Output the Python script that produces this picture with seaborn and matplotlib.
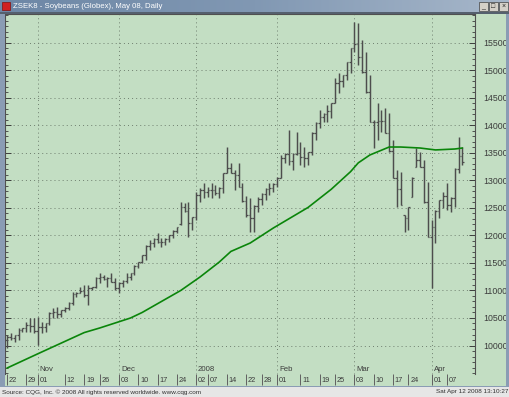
import numpy as np
import pandas as pd
import matplotlib
matplotlib.use("Agg")
import matplotlib.pyplot as plt
import matplotlib.transforms as mtransforms
from matplotlib.patches import Rectangle
from matplotlib.ticker import MultipleLocator, FixedLocator, FuncFormatter
from matplotlib.colors import LinearSegmentedColormap
import seaborn as sns

# ---------------- data ----------------
holidays = ['2007-11-22', '2007-12-25', '2008-01-01', '2008-01-21', '2008-02-18', '2008-03-21']
dates = pd.bdate_range('2007-10-22', '2008-04-11')
dates = dates[~dates.isin(pd.to_datetime(holidays))]

opens = [10100, 10160, 10130, 10190, 10280, 10310, 10370, 10360, 10260, 10330,
         10330, 10400, 10590, 10600, 10580, 10640, 10690, 10780, 10930, 10960,
         10990, 10920, 11040, 11060, 11230, 11240, 11200, 11230, 11160, 11050,
         11130, 11180, 11250, 11310, 11450, 11510, 11640, 11810, 11870, 11940,
         11880, 11890, 11940, 12000, 12090, 12200, 12510, 12440, 12220, 12330,
         12740, 12820, 12790, 12820, 12830, 12780, 12870, 13140, 13230, 13140,
         13100, 12890, 12620, 12370, 12310, 12540, 12660, 12750, 12840, 12870,
         12940, 13050, 13400, 13490, 13350, 13480, 13500, 13430, 13400, 13510,
         13870, 14050, 14150, 14210, 14270, 14410, 14770, 14810, 14910, 15150,
         15400, 15480, 15250, 14970, 14600, 14070, 14070, 14080, 14090, 13870,
         13530, 13050, 12850, 12370, 12310, 12700, 13250, 13380, 13250, 12600,
         11980, 12160, 12450, 12640, 12710, 12560, 12690, 13200, 13450]
highs = [10190, 10230, 10190, 10320, 10320, 10430, 10500, 10500, 10520, 10430,
         10410, 10610, 10680, 10700, 10650, 10700, 10790, 10970, 10970, 11060,
         11100, 11100, 11060, 11250, 11320, 11280, 11250, 11320, 11230, 11150,
         11190, 11320, 11320, 11460, 11520, 11650, 11830, 11920, 11950, 12050,
         11950, 11950, 12010, 12100, 12150, 12610, 12590, 12610, 12340, 12790,
         12860, 12950, 12880, 12950, 12920, 12880, 13140, 13610, 13320, 13190,
         13320, 12950, 12720, 12680, 12550, 12700, 12770, 12860, 12950, 12950,
         13060, 13460, 13500, 13920, 13500, 13880, 13700, 13610, 13520, 13880,
         14060, 14280, 14230, 14370, 14410, 14860, 14950, 14920, 15150, 15410,
         15880, 15860, 15550, 15340, 14920, 14100, 14410, 14280, 14320, 14230,
         13740, 13190, 13150, 12370, 12520, 13060, 13590, 13520, 13370, 12970,
         12280, 12460, 12650, 12790, 12950, 12700, 13230, 13790, 13610]
lows = [9955, 10100, 10060, 10100, 10245, 10245, 10245, 10230, 10010, 10230,
        10245, 10370, 10500, 10500, 10520, 10610, 10645, 10740, 10880, 10950,
        10880, 10740, 11010, 11045, 11140, 11190, 11060, 11150, 11010, 10950,
        11060, 11140, 11190, 11280, 11410, 11500, 11550, 11740, 11790, 11860,
        11790, 11830, 11880, 11950, 12045, 12190, 12430, 11970, 12100, 12280,
        12610, 12680, 12700, 12680, 12740, 12680, 12770, 13140, 13140, 12830,
        12880, 12610, 12340, 12060, 12060, 12430, 12550, 12650, 12740, 12790,
        12880, 13045, 13320, 13280, 13190, 13460, 13280, 13245, 13280, 13460,
        13740, 13950, 14060, 14060, 14140, 14410, 14590, 14700, 14830, 14950,
        15340, 15100, 14950, 14590, 14060, 13590, 13740, 13880, 13860, 13520,
        13045, 12520, 12550, 12060, 12100, 12700, 13245, 13245, 12590, 11970,
        11045, 11860, 12320, 12500, 12460, 12430, 12520, 13140, 13280]
closes = [10160, 10130, 10190, 10280, 10310, 10370, 10360, 10260, 10330, 10330,
          10400, 10590, 10600, 10580, 10640, 10690, 10780, 10930, 10960, 10990,
          10920, 11040, 11060, 11230, 11240, 11200, 11230, 11160, 11050, 11130,
          11180, 11250, 11310, 11450, 11510, 11640, 11810, 11870, 11940, 11880,
          11890, 11940, 12000, 12090, 12150, 12510, 12440, 12220, 12330, 12740,
          12820, 12790, 12820, 12830, 12780, 12870, 13130, 13230, 13140, 13100,
          12890, 12620, 12370, 12310, 12540, 12660, 12750, 12840, 12870, 12940,
          13050, 13400, 13490, 13350, 13480, 13500, 13430, 13400, 13510, 13870,
          14050, 14150, 14210, 14270, 14400, 14770, 14810, 14910, 15150, 15400,
          15480, 15250, 14970, 14600, 14070, 14070, 14080, 14090, 13870, 13530,
          13050, 12850, 12560, 12310, 12510, 13050, 13380, 13250, 12600, 11980,
          12160, 12450, 12640, 12710, 12560, 12690, 13200, 13450, 13330]

# moving-average line, read at selected dates
ma_dates = ['2007-10-22', '2007-11-01', '2007-11-19', '2007-11-26', '2007-12-06', '2007-12-11',
            '2007-12-18', '2007-12-26', '2008-01-03', '2008-01-10', '2008-01-15', '2008-01-23',
            '2008-01-31', '2008-02-13', '2008-02-22', '2008-02-29', '2008-03-04', '2008-03-07',
            '2008-03-14', '2008-03-19', '2008-03-27', '2008-04-02', '2008-04-09', '2008-04-11']
ma_values = [9590, 9850, 10235, 10318, 10500, 10600,
             10800, 11000, 11245, 11518, 11710, 11863,
             12136, 12510, 12840, 13160, 13320, 13463,
             13608, 13608, 13590, 13555, 13572, 13590]

price_ticks = [10000, 10500, 11000, 11500, 12000, 12500, 13000, 13500, 14000, 14500, 15000, 15500]

tick_dates = ['2007-10-22', '2007-10-29', '2007-11-01', '2007-11-12', '2007-11-19', '2007-11-26',
              '2007-12-03', '2007-12-10', '2007-12-17', '2007-12-24', '2008-01-02', '2008-01-07',
              '2008-01-14', '2008-01-22', '2008-01-28', '2008-02-01', '2008-02-11', '2008-02-19',
              '2008-02-25', '2008-03-03', '2008-03-10', '2008-03-17', '2008-03-24', '2008-04-01',
              '2008-04-07']
tick_labels = ['22', '29', '01', '12', '19', '26', '03', '10', '17', '24', '02', '07', '14', '22',
               '28', '01', '11', '19', '25', '03', '10', '17', '24', '01', '07']
month_labels = ['Nov', 'Dec', '2008', 'Feb', 'Mar', 'Apr']

title_text = 'ZSEK8 - Soybeans (Globex), May 08, Daily'
footer_left = 'Source: CQG, Inc. \u00a9 2008 All rights reserved worldwide. www.cqg.com'
footer_right = 'Sat Apr 12 2008 13:10:27'

# ---------------- style ----------------
sns.set_style('white')
plt.rcParams['font.family'] = ['Liberation Sans', 'DejaVu Sans']

GREEN_BG = '#c3dec3'
BAR = '#4d4d4d'
MA_COLOR = '#0a850a'
TXT = '#3c3c3c'
GRID = '#6f7f6f'

W, H = 510, 397
fig = plt.figure(figsize=(W / 100, H / 100), dpi=100)
fig.patch.set_facecolor('#e6e6e6')


def frect(x0, y0, x1, y1, **kw):
    fig.add_artist(Rectangle((x0 / W, 1 - y1 / H), (x1 - x0) / W, (y1 - y0) / H,
                             transform=fig.transFigure, **kw))


# window frame
frect(0, 12, 510, 387, facecolor=GREEN_BG, edgecolor='none', zorder=0)
frect(0, 12, 5, 387, facecolor='#8a9cb4', edgecolor='none', zorder=1)
frect(506, 12, 510, 387, facecolor='#8a9cb4', edgecolor='none', zorder=1)
frect(0, 12, 510, 14, facecolor='#55606e', edgecolor='none', zorder=1)
frect(0, 385.5, 510, 387, facecolor='#8a9cb4', edgecolor='none', zorder=1)

# title bar with gradient
tax = fig.add_axes([0, 1 - 12 / H, 1, 12 / H])
tax.set_axis_off()
grad = np.linspace(0, 1, 256).reshape(1, -1)
cmap = LinearSegmentedColormap.from_list('tb', ['#6d87a6', '#8198b3', '#a7b7ca'])
tax.imshow(grad, aspect='auto', cmap=cmap, extent=[0, 1, 0, 1])
tax.set_xlim(0, 1)
tax.set_ylim(0, 1)
frect(2, 2, 10, 10, facecolor='#d02020', edgecolor='#801010', lw=0.5, zorder=5)
fig.text(13 / W, 1 - 6.5 / H, title_text, color='white', fontsize=5.6,
         va='center', ha='left', zorder=6)
for bx, glyph in zip([479, 489, 499], ['_', '\u25a1', '\u00d7']):
    frect(bx, 2, bx + 9, 11, facecolor='#d4d0c8', edgecolor='#404040', lw=0.5, zorder=5)
    fig.text((bx + 4.5) / W, 1 - 6.5 / H, glyph, fontsize=5, ha='center', va='center',
             color='#202020', zorder=6)

# footer
fig.text(2 / W, 1 - 392 / H, footer_left, fontsize=4.6, color='#303030', va='center', ha='left')
fig.text(508 / W, 1 - 392 / H, footer_right, fontsize=4.6, color='#303030', va='center', ha='right')

# ---------------- main axes ----------------
ax = fig.add_axes([5 / W, 1 - 374 / H, 470 / W, 360 / H])
ax.set_facecolor(GREEN_BG)

idx = np.arange(len(dates))
o = np.array(opens)
h = np.array(highs)
l = np.array(lows)
c = np.array(closes)

ax.vlines(idx, l, h, color=BAR, lw=1.05, zorder=3)
ax.hlines(o, idx - 0.42, idx, color=BAR, lw=0.9, zorder=3)
ax.hlines(c, idx, idx + 0.42, color=BAR, lw=0.9, zorder=3)

ma_idx = dates.get_indexer(pd.to_datetime(ma_dates))
ma_df = pd.DataFrame({'x': ma_idx, 'ma': ma_values})
sns.lineplot(data=ma_df, x='x', y='ma', ax=ax, color=MA_COLOR, lw=1.2, zorder=4,
             legend=False, sort=True)

ax.set_xlim(-0.52, 121.24)
ax.set_ylim(9482, 16026)
ax.set_xlabel('')
ax.set_ylabel('')

# horizontal dotted grid
ax.yaxis.set_major_locator(FixedLocator(price_ticks))
ax.yaxis.set_minor_locator(MultipleLocator(100))
ax.yaxis.set_major_formatter(FuncFormatter(lambda v, p: f'{int(v)}'))
ax.grid(axis='y', which='major', color=GRID, linestyle=(0, (1, 3.2)), lw=0.7)
ax.grid(axis='x', visible=False)

# month separators and labels
month_first = pd.Series(idx, index=dates).groupby(dates.to_period('M')).first().values[1:]
blend = mtransforms.blended_transform_factory(ax.transData, ax.transAxes)
for mi, lab in zip(month_first, month_labels):
    ax.axvline(mi, color=GRID, linestyle=(0, (1, 3.2)), lw=0.7, zorder=1)
    ax.text(mi + 0.5, 0.004, lab, transform=blend, ha='left', va='bottom',
            fontsize=5.6, color=TXT)

# right y axis
ax.yaxis.tick_right()
ax.tick_params(axis='y', which='major', direction='in', length=4, width=0.7,
               colors=TXT, labelsize=6.3, pad=6, left=True, right=True,
               labelleft=False, labelright=True)
ax.tick_params(axis='y', which='minor', direction='in', length=2, width=0.6,
               color=TXT, left=True, right=True)

# date ticks
tick_idx = dates.get_indexer(pd.to_datetime(tick_dates))
ax.set_xticks(tick_idx)
ax.tick_params(axis='x', which='major', direction='out', length=8, width=0.7,
               color='#606060', labelbottom=False, bottom=True, top=False)
for ti, tl in zip(tick_idx, tick_labels):
    ax.text(ti + 0.45, -0.018, tl, transform=blend, ha='left', va='center',
            fontsize=5.3, color=TXT, clip_on=False)

for side in ['left', 'right', 'top']:
    ax.spines[side].set_visible(True)
    ax.spines[side].set_color('#505050')
    ax.spines[side].set_linewidth(0.8)
ax.spines['bottom'].set_visible(False)

fig.savefig('out.png', dpi=100, facecolor=fig.get_facecolor())
